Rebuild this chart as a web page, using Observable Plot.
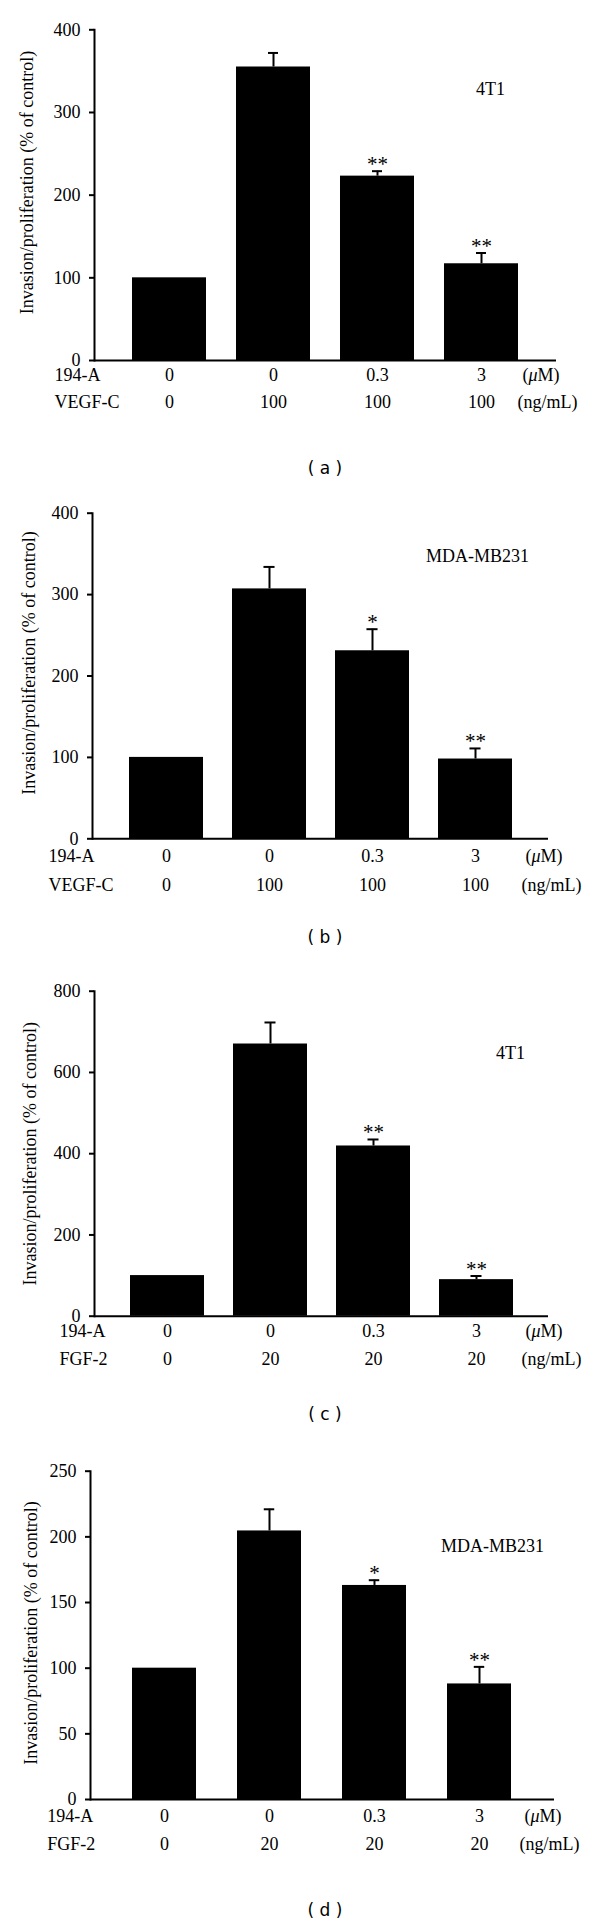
<!DOCTYPE html>
<html><head><meta charset="utf-8">
<script src="https://cdn.jsdelivr.net/npm/d3@7"></script>
<script src="https://cdn.jsdelivr.net/npm/@observablehq/plot@0.6"></script>
<style>
body{margin:0;background:#fff;}
#root{position:relative;width:600px;height:1927px;background:#fff;overflow:hidden;}
.panel{position:absolute;left:0;}
.cap{position:absolute;font-family:"DejaVu Sans";font-size:17px;line-height:20px;transform:translateX(-50%);white-space:pre;color:#000;}
</style></head><body><div id="root"></div>
<script>
// ---- data ----
const groups = ["Control", "GF", "GF + 0.3", "GF + 3"];
const inhibitorName = "194-A";
const inhibitorDose = ["0", "0", "0.3", "3"];
const inhibitorUnit = "(μM)";
const gfUnit = "(ng/mL)";
const vegfDose = ["0", "100", "100", "100"];
const fgfDose = ["0", "20", "20", "20"];
const yLabel = "Invasion/proliferation (% of control)";

const aMean = [100, 355, 223, 117];
const aErr = [0, 17, 6, 13];
const aSig = ["", "", "**", "**"];

const bMean = [100, 307, 231, 98];
const bErr = [0, 27, 26.5, 13];
const bSig = ["", "", "*", "**"];

const cMean = [100, 670, 419, 90];
const cErr = [0, 53, 16, 9];
const cSig = ["", "", "**", "**"];

const dMean = [100, 204.5, 163, 88];
const dErr = [0, 16.5, 4, 13];
const dSig = ["", "", "*", "**"];

const aTicks = [0, 100, 200, 300, 400];
const bTicks = [0, 100, 200, 300, 400];
const cTicks = [0, 200, 400, 600, 800];
const dTicks = [0, 50, 100, 150, 200, 250];

// ---- panels ----
const panels = [
  {mean: aMean, err: aErr, sig: aSig, ticks: aTicks, gfName: "VEGF-C", gf: vegfDose, cell: "4T1", caption: "( a )",
   top: 0, h: 420, mt: 29.3, mb: 60, ml: 94, mr: 44, pi: 0.286, po: 0.343,
   ylx: -67, yly: -12.7, r1: 14.5, r2: 42, ldx: -40, u1: -34, u2: -39, cdx: -66, cdy: 59, capY: 468},
  {mean: bMean, err: bErr, sig: bSig, ticks: bTicks, gfName: "VEGF-C", gf: vegfDose, cell: "MDA-MB231", caption: "( b )",
   top: 480, h: 420, mt: 32.7, mb: 61.7, ml: 92, mr: 52, pi: 0.285, po: 0.348,
   ylx: -63, yly: -13, r1: 17, r2: 46, ldx: -44, u1: -23, u2: -27, cdx: -71, cdy: 43.3, capY: 937},
  {mean: cMean, err: cErr, sig: cSig, ticks: cTicks, gfName: "FGF-2", gf: fgfDose, cell: "4T1", caption: "( c )",
   top: 960, h: 420, mt: 30.7, mb: 64.3, ml: 94, mr: 52, pi: 0.284, po: 0.339,
   ylx: -64, yly: 0, r1: 15.5, r2: 43, ldx: -35, u1: -23, u2: -27, cdx: -38, cdy: 62, capY: 1414},
  {mean: dMean, err: dErr, sig: dSig, ticks: dTicks, gfName: "FGF-2", gf: fgfDose, cell: "MDA-MB231", caption: "( d )",
   top: 1440, h: 420, mt: 30.7, mb: 61, ml: 90, mr: 46, pi: 0.386, po: 0.4,
   ylx: -59.3, yly: -2.4, r1: 16.3, r2: 44.4, ldx: -43.3, u1: -30, u2: -35, cdx: -62, cdy: 75.3, capY: 1910}
];

const root = document.getElementById("root");

for (const p of panels) {
  const data = groups.map((g, i) => ({g, mean: p.mean[i], hi: p.mean[i] + p.err[i], err: p.err[i],
    sig: p.sig[i], dose: inhibitorDose[i], gf: p.gf[i]}));
  const withErr = data.filter(d => d.err > 0);
  const withSig = data.filter(d => d.sig);
  const fw = 600 - p.ml - p.mr;
  const step = fw / (groups.length - p.pi + 2 * p.po);
  const bw = step * (1 - p.pi);
  const capInset = (bw - 11) / 2;
  const ymax = p.ticks[p.ticks.length - 1];
  const txt = {fontSize: 18, lineAnchor: "middle"};

  const svg = Plot.plot({
    width: 600, height: p.h,
    marginTop: p.mt, marginBottom: p.mb, marginLeft: p.ml, marginRight: p.mr,
    style: {fontFamily: "Liberation Serif", fontSize: "18px", color: "#000", background: "#fff", overflow: "visible"},
    x: {domain: groups, paddingInner: p.pi, paddingOuter: p.po, axis: null},
    y: {domain: [0, ymax], axis: null},
    marks: [
      Plot.barY(data, {x: "g", y: "mean", fill: "#000"}),
      Plot.ruleX(withErr, {x: "g", y1: "mean", y2: "hi", stroke: "#000", strokeWidth: 2}),
      Plot.tickY(withErr, {x: "g", y: "hi", stroke: "#000", strokeWidth: 2, insetLeft: capInset, insetRight: capInset}),
      Plot.text(withSig, {x: "g", y: "hi", text: "sig", lineAnchor: "bottom", dy: 0, fontSize: 21}),
      Plot.ruleY([0], {stroke: "#000", strokeWidth: 2}),
      Plot.frame({anchor: "left", stroke: "#000", strokeWidth: 2}),
      Plot.axisY({ticks: p.ticks, tickSize: 5, tickPadding: 9, label: null, fontSize: 18, strokeWidth: 2, tickFormat: d => String(d)}),
      Plot.text([yLabel], {...txt, text: d => d, frameAnchor: "left", textAnchor: "middle", rotate: -90, dx: p.ylx, dy: p.yly}),
      Plot.text(data, {...txt, x: "g", text: "dose", frameAnchor: "bottom", textAnchor: "middle", dy: p.r1}),
      Plot.text(data, {...txt, x: "g", text: "gf", frameAnchor: "bottom", textAnchor: "middle", dy: p.r2}),
      Plot.text([inhibitorName], {...txt, text: d => d, frameAnchor: "bottom-left", textAnchor: "start", dx: p.ldx, dy: p.r1}),
      Plot.text([p.gfName], {...txt, text: d => d, frameAnchor: "bottom-left", textAnchor: "start", dx: p.ldx, dy: p.r2}),
      Plot.text([inhibitorUnit], {...txt, text: d => d, frameAnchor: "bottom-right", textAnchor: "start", dx: p.u1, dy: p.r1}),
      Plot.text([gfUnit], {...txt, text: d => d, frameAnchor: "bottom-right", textAnchor: "start", dx: p.u2, dy: p.r2}),
      Plot.text([p.cell], {...txt, text: d => d, frameAnchor: "top-right", textAnchor: "middle", dx: p.cdx, dy: p.cdy})
    ]
  });
  // italic mu
  svg.querySelectorAll("text").forEach(t => {
    if (t.textContent === inhibitorUnit) {
      const ns = "http://www.w3.org/2000/svg";
      t.textContent = "";
      const a = document.createElementNS(ns, "tspan"); a.textContent = "(";
      const m = document.createElementNS(ns, "tspan"); m.textContent = "μ"; m.setAttribute("font-style", "italic");
      const b = document.createElementNS(ns, "tspan"); b.textContent = "M)";
      t.append(a, m, b);
    }
  });
  const wrap = document.createElement("div");
  wrap.className = "panel";
  wrap.style.top = p.top + "px";
  wrap.appendChild(svg);
  root.appendChild(wrap);

  const cap = document.createElement("div");
  cap.className = "cap";
  cap.textContent = p.caption;
  cap.style.left = "325px";
  cap.style.top = (p.capY - 10) + "px";
  root.appendChild(cap);
}
</script>
</body></html>
